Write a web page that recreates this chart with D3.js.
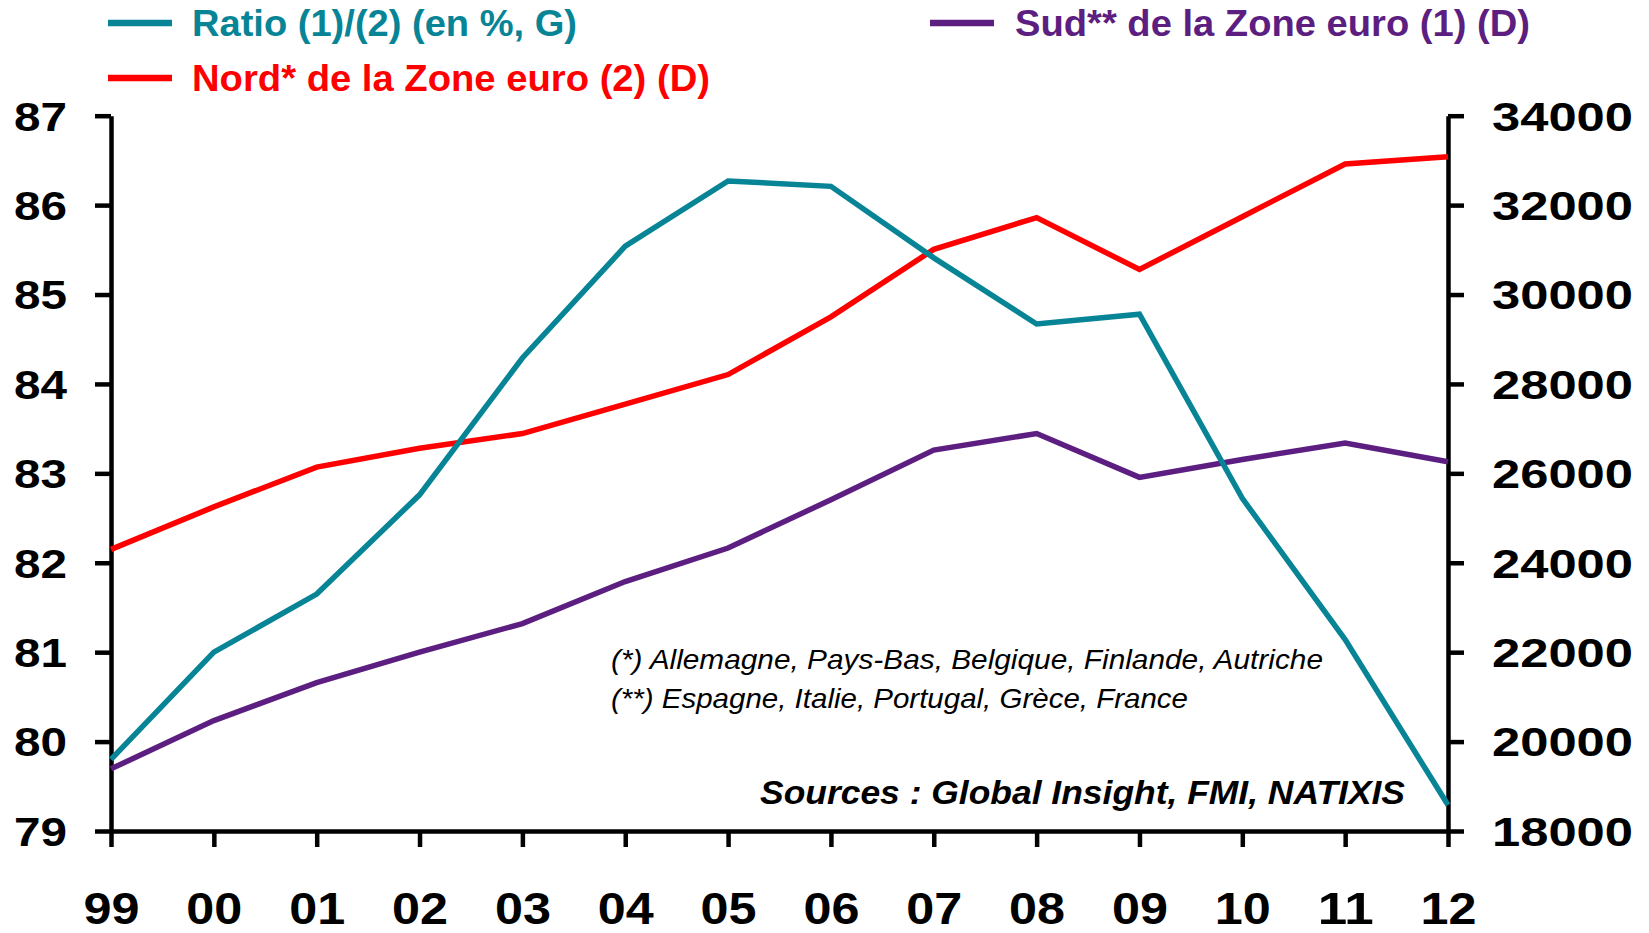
<!DOCTYPE html>
<html>
<head>
<meta charset="utf-8">
<script src="https://cdn.jsdelivr.net/npm/d3@7"></script>
<style>
  body { margin: 0; background: #fff; }
  svg { display: block; font-family: "Liberation Sans", Arial, sans-serif; }
  .axis path, .axis line { stroke: #000; stroke-width: 4.5; }
  .axis text { fill: #000; font-weight: bold; }
</style>
</head>
<body>
<div id="chart"></div>
<script>
// years on the x axis
var years = ["99","00","01","02","03","04","05","06","07","08","09","10","11","12"];
// ratio Sud/Nord in % (left axis)
var ratio = [79.8, 81.0, 81.65, 82.76, 84.29, 85.54, 86.27, 86.21, 85.41, 84.67, 84.78, 82.72, 81.14, 79.29];
// GDP per capita, right axis
var nord = [24300, 25250, 26140, 26560, 26890, 27550, 28210, 29500, 31010, 31720, 30560, 31740, 32920, 33080];
var sud = [19390, 20470, 21320, 22000, 22640, 23580, 24330, 25410, 26520, 26890, 25910, 26310, 26680, 26260];
var leftTicks = [79, 80, 81, 82, 83, 84, 85, 86, 87];
var rightTicks = [18000, 20000, 22000, 24000, 26000, 28000, 30000, 32000, 34000];

var TEAL = "#078495", RED = "#ff0000", PURPLE = "#5c1e80";

var width = 1649, height = 933;
var x0 = 111, x1 = 1448, yTop = 115.7, yBot = 831;

var svg = d3.select("#chart").append("svg")
	.attr("width", width)
	.attr("height", height);

var x = d3.scalePoint().domain(years).range([x0, x1]);
var yL = d3.scaleLinear().domain([79, 87]).range([yBot, yTop]);
var yR = d3.scaleLinear().domain([18000, 34000]).range([yBot, yTop]);

// axes
var axisL = svg.append("g")
	.attr("class", "axis")
	.attr("transform", "translate(" + x0 + ",0)")
	.call(d3.axisLeft(yL).tickValues(leftTicks).tickSize(16).tickSizeOuter(0).tickFormat(d3.format("d")));
axisL.selectAll("text")
	.attr("x", -44)
	.attr("dy", "0.36em")
	.style("font-size", "40px")
	.attr("textLength", 53)
	.attr("lengthAdjust", "spacingAndGlyphs");

var axisR = svg.append("g")
	.attr("class", "axis")
	.attr("transform", "translate(" + x1 + ",0)")
	.call(d3.axisRight(yR).tickValues(rightTicks).tickSize(16).tickSizeOuter(0).tickFormat(d3.format("d")));
axisR.selectAll("text")
	.attr("x", 44)
	.attr("dy", "0.36em")
	.style("font-size", "40px")
	.attr("textLength", 141)
	.attr("lengthAdjust", "spacingAndGlyphs");

var axisB = svg.append("g")
	.attr("class", "axis")
	.attr("transform", "translate(0," + yBot + ")")
	.call(d3.axisBottom(x).tickSize(16).tickSizeOuter(0));
axisB.selectAll("text")
	.attr("y", 77)
	.attr("dy", "0.36em")
	.style("font-size", "45px")
	.attr("textLength", 56)
	.attr("lengthAdjust", "spacingAndGlyphs");

// lines
var lineL = d3.line().x(function(d, i){ return x(years[i]); }).y(function(d){ return yL(d); });
var lineR = d3.line().x(function(d, i){ return x(years[i]); }).y(function(d){ return yR(d); });

svg.append("path").datum(sud)
	.attr("d", lineR)
	.attr("fill", "none")
	.attr("stroke", PURPLE)
	.attr("stroke-width", 5.5);
svg.append("path").datum(nord)
	.attr("d", lineR)
	.attr("fill", "none")
	.attr("stroke", RED)
	.attr("stroke-width", 5.5);
svg.append("path").datum(ratio)
	.attr("d", lineL)
	.attr("fill", "none")
	.attr("stroke", TEAL)
	.attr("stroke-width", 5.5);

// legend
var legend = [
	{label: "Ratio (1)/(2) (en %, G)", color: TEAL, lx: 108, tx: 192, y: 23, w: 385},
	{label: "Nord* de la Zone euro (2) (D)", color: RED, lx: 108, tx: 192, y: 78, w: 518},
	{label: "Sud** de la Zone euro (1) (D)", color: PURPLE, lx: 930, tx: 1015, y: 23, w: 515}
];
var lg = svg.selectAll("g.legend").data(legend).enter().append("g").attr("class", "legend");
lg.append("line")
	.attr("x1", function(d){ return d.lx; })
	.attr("x2", function(d){ return d.lx + 64; })
	.attr("y1", function(d){ return d.y; })
	.attr("y2", function(d){ return d.y; })
	.attr("stroke", function(d){ return d.color; })
	.attr("stroke-width", 6.5);
lg.append("text")
	.attr("x", function(d){ return d.tx; })
	.attr("y", function(d){ return d.y; })
	.attr("dy", "0.36em")
	.attr("textLength", function(d){ return d.w; })
	.attr("lengthAdjust", "spacingAndGlyphs")
	.style("font-size", "36px")
	.style("font-weight", "bold")
	.style("fill", function(d){ return d.color; })
	.text(function(d){ return d.label; });

// notes
svg.append("text")
	.attr("x", 611).attr("y", 659).attr("dy", "0.36em")
	.attr("textLength", 712).attr("lengthAdjust", "spacingAndGlyphs")
	.style("font-size", "28px").style("font-style", "italic")
	.text("(*) Allemagne, Pays-Bas, Belgique, Finlande, Autriche");
svg.append("text")
	.attr("x", 611).attr("y", 698).attr("dy", "0.36em")
	.attr("textLength", 577).attr("lengthAdjust", "spacingAndGlyphs")
	.style("font-size", "28px").style("font-style", "italic")
	.text("(**) Espagne, Italie, Portugal, Grèce, France");
svg.append("text")
	.attr("x", 760).attr("y", 792).attr("dy", "0.36em")
	.attr("textLength", 645).attr("lengthAdjust", "spacingAndGlyphs")
	.style("font-size", "34px").style("font-style", "italic").style("font-weight", "bold")
	.text("Sources : Global Insight, FMI, NATIXIS");
</script>
</body>
</html>
